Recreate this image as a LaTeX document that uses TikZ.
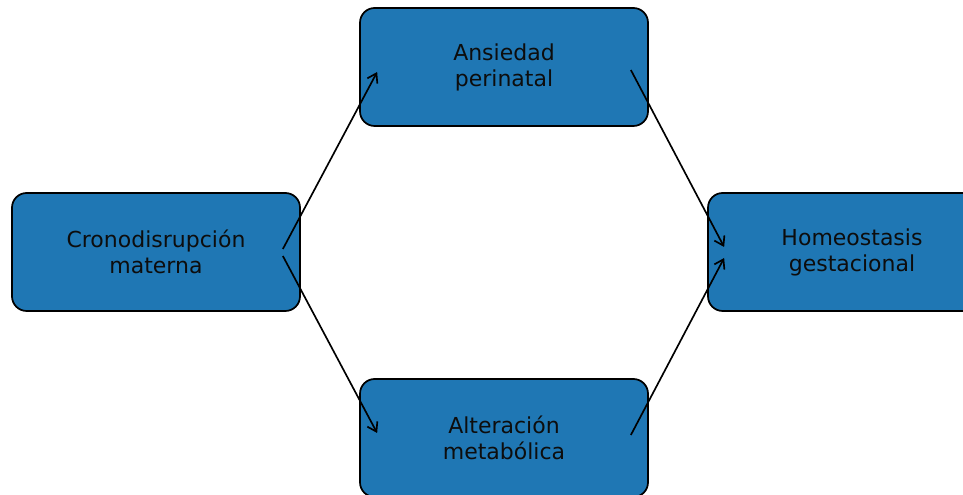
\documentclass[tikz,border=0pt]{standalone}
\usepackage{fontspec}
\setmainfont{DejaVu Sans}
\usetikzlibrary{arrows.meta}

\begin{document}
\begin{tikzpicture}[x=0.75pt, y=0.75pt]
        \definecolor{boxblue}{RGB}{31,119,180}
        \tikzset{
            factor/.style={draw=black, line width=1.3pt, fill=boxblue, rounded corners=11pt,
                minimum width=216pt, minimum height=88.5pt, align=center,
                font=\fontsize{16.5}{19.5}\selectfont, text=black!95, inner sep=0pt},
            link/.style={line width=1.25pt, -{Straight Barb[length=6.5pt, width=8.5pt, line width=1.25pt]}}
        }

        % Frame
        \clip (0,0) rectangle (963,495);

        % Nodes
        \node[factor] (crono) at (156, 243) {Cronodisrupción\\materna};
        \node[factor] (ansiedad) at (504, 428) {Ansiedad\\perinatal};
        \node[factor] (metab) at (504, 57) {Alteración\\metabólica};
        \node[factor] (homeo) at (852, 243) {Homeostasis\\gestacional};

        % Arrow ends
        \coordinate (A) at ([shift={(-18, 3)}]crono.east);
        \coordinate (B) at ([shift={(18, -5)}]ansiedad.west);
        \coordinate (C) at ([shift={(-18, -4)}]crono.east);
        \coordinate (D) at ([shift={(18, 5)}]metab.west);
        \coordinate (E) at ([shift={(-18, -3)}]ansiedad.east);
        \coordinate (F) at ([shift={(17, 5)}]homeo.west);
        \coordinate (G) at ([shift={(-18, 3)}]metab.east);
        \coordinate (H) at ([shift={(17, -6)}]homeo.west);

        % Arrows
        \draw[link] (A) -- (B);
        \draw[link] (C) -- (D);
        \draw[link] (E) -- (F);
        \draw[link] (G) -- (H);
    \end{tikzpicture}
\end{document}
